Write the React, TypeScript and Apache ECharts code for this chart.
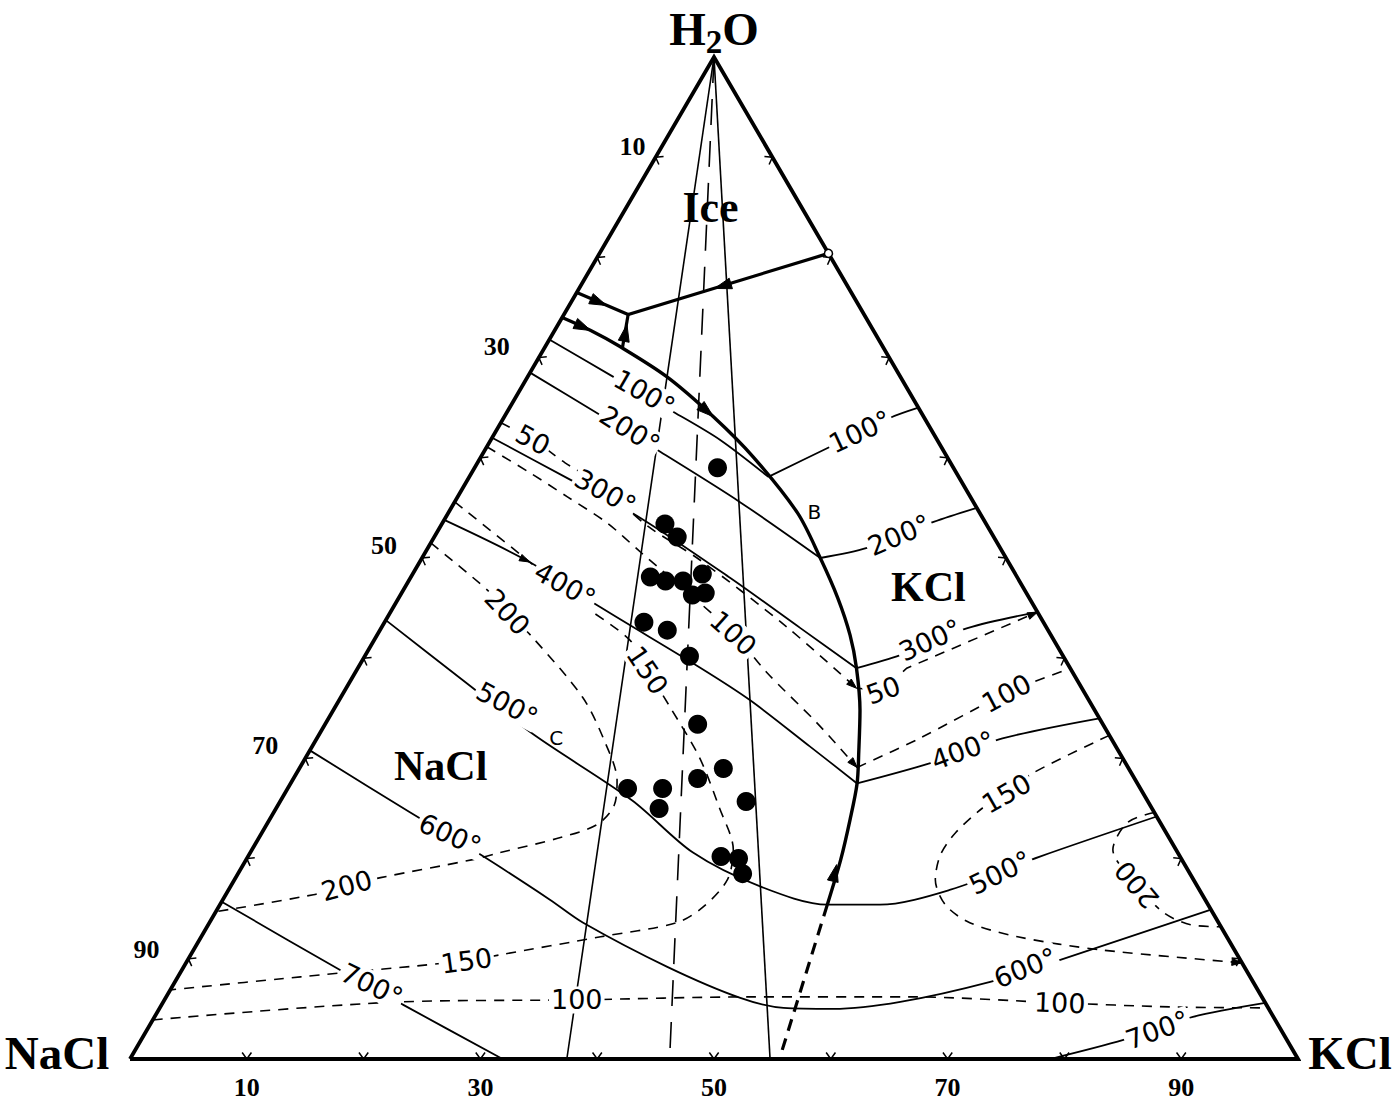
import React, { useEffect, useRef } from "react";
import * as echarts from "echarts";

// ---------------- DATA (ternary compositions: [KCl wt%, H2O wt%], NaCl = 100 - KCl - H2O) ----------------
const cornerNaCl = [0, 0];
const cornerKCl = [100, 0];
const cornerH2O = [0, 100];
const gridSteps = [10, 20, 30, 40, 50, 60, 70, 80, 90];
const edgeLabelValues = [10, 30, 50, 70, 90];

// liquidus field boundaries
const cotecticB = [[0, 74.0], [3.1, 72.7], [6.4, 71.1], [11.9, 68.1], [17.9, 64.1], [23.3, 60.1], [29.9, 54.5], [34.1, 50.0], [37.6, 46.0], [40.5, 42.3], [42.7, 39.0], [45.1, 34.8], [47.0, 30.8], [48.5, 27.5], [49.7, 23.9], [50.9, 19.9], [52.0, 15.4]];
const cotecticToBase = [[52.0, 15.4], [55.6, 0]];
const iceBoundary = [[0, 76.5], [5.5, 74.3], [19.6, 80.4]];
const iceLink = [[5.5, 74.3], [6.7, 70.9]];

// rays from the H2O apex (KCl wt% where they meet the base)
const apexRaysSolid = [37.4, 54.8];
const apexRaysDashed = [46.2];

// isotherms (solid), °C
const iso100Na = [[0, 71.8], [7.3, 68.1], [14.2, 64.6], [19.6, 61.8], [25.6, 58.1]];
const iso200Na = [[0, 68.5], [7.5, 64.6], [15.1, 60.6], [24.4, 55.6], [34.1, 50.0]];
const iso300Na = [[0, 62.0], [8.4, 58.0], [16.7, 54.0], [27.4, 48.0], [35.9, 43.0], [42.7, 39.0]];
const iso400Na = [[0, 53.8], [9.4, 49.6], [17.7, 45.1], [29.2, 39.1], [35.2, 35.8], [42.6, 31.2], [48.5, 27.5]];
const iso500 = [[0, 43.8], [9.6, 37.8], [18.5, 32.3], [30.1, 25.8], [37.9, 20.6], [45.4, 17.2], [52.0, 15.4], [56.5, 15.4], [61.8, 16.9], [67.8, 20.2], [75.8, 24.2]];
const iso600 = [[0, 30.8], [11.7, 24.6], [19.8, 20.4], [28.0, 15.9], [32.0, 13.6], [41.4, 9.2], [49.2, 6.1], [53.4, 5.1], [57.7, 5.0], [63.1, 5.7], [69.8, 7.7], [74.7, 9.9], [85.1, 14.9]];
const iso700Na = [[0, 15.7], [13.5, 8.9], [20.7, 5.4], [31.9, 0]];
const iso700K = [[78.8, 0], [84.1, 1.9], [88.9, 4.2], [94.4, 5.6]];
const iso100K = [[25.6, 58.1], [29.4, 61.1], [33.1, 64.0], [35.0, 65.0]];
const iso200K = [[34.1, 50.0], [37.6, 51.0], [42.0, 53.6], [45.0, 55.0]];
const iso300K = [[42.7, 39.0], [45.8, 40.3], [50.2, 43.0], [55.4, 44.6]];
const iso400K = [[48.5, 27.5], [53.7, 29.5], [58.7, 32.0], [66.0, 34.0]];

// isobars (dashed), MPa
const p50Na = [[0, 63.5], [3.6, 61.8], [7.5, 59.5], [11.6, 57.3], [17.7, 53.2], [23.9, 49.8], [34.7, 43.1], [43.7, 37.0]];
const p50K = [[43.7, 37.0], [46.1, 36.8], [47.0, 39.0], [55.4, 44.6]];
const p100Na = [[0, 61.1], [5.0, 58.5], [9.4, 56.1], [14.1, 53.5], [18.4, 50.6], [24.1, 46.8], [30.4, 42.5], [35.2, 38.6], [42.1, 33.5], [47.7, 29.1]];
const p100K = [[47.7, 29.1], [51.6, 32.0], [56.8, 36.5], [61.0, 39.0]];
const p150Na = [[0, 55.6], [8.8, 50.0], [15.8, 45.5], [21.9, 41.8], [24.9, 38.8], [28.7, 35.1], [33.7, 30.1], [37.9, 25.1], [41.2, 20.9], [42.2, 17.9], [41.5, 15.2], [40.0, 13.6], [34.2, 12.2], [26.5, 10.4], [23.9, 9.8], [10.5, 8.2], [0, 6.9]];
const p150K = [[67.7, 32.3], [63.0, 28.5], [61.8, 26.5], [60.5, 25.1], [59.4, 22.6], [59.2, 20.4], [60.0, 17.9], [62.1, 15.4], [65.1, 13.6], [69.9, 12.2], [77.6, 10.9], [90.4, 9.6]];
const p200Na = [[0, 51.5], [7.2, 46.8], [10.0, 44.6], [13.4, 42.1], [20.7, 36.1], [24.7, 31.8], [27.8, 27.8], [28.8, 25.3], [28.3, 23.4], [25.8, 22.1], [21.4, 20.6], [19.4, 19.9], [12.4, 18.1], [9.9, 17.3], [7.5, 16.4], [0, 14.7]];
const p200K = [[75.4, 24.6], [73.6, 23.6], [73.7, 20.9], [77.5, 17.4], [81.2, 14.6], [84.1, 13.4], [86.8, 13.2]];
const p100Low = [[0, 3.9], [20.3, 5.7], [35.3, 5.9], [50.0, 6.2], [63.7, 6.2], [76.8, 5.6], [86.4, 5.2], [94.9, 5.1]];

// fluid inclusion compositions
const samples = [
  [20.8, 59.0], [19.1, 53.4], [20.8, 52.1], [20.5, 48.1], [22.0, 47.7], [23.5, 47.7], [24.8, 48.4],
  [25.0, 46.3], [26.0, 46.5], [22.2, 43.6], [24.6, 42.8], [27.8, 40.2], [31.9, 33.4], [36.3, 29.0],
  [34.6, 28.0], [29.1, 27.0], [32.1, 27.0], [32.8, 25.0], [39.9, 25.7], [40.5, 20.2], [42.1, 20.0], [43.2, 18.5],
];

// crystallization-path arrows: [from, tip]
const pathArrows = [
  [[0, 76.5], [3.2, 75.2]], [[19.6, 80.4], [11.6, 76.9]], [[0, 74.0], [3.1, 72.7]],
  [[6.7, 70.9], [5.9, 73.3]], [[11.9, 68.1], [17.9, 64.1]], [[52.0, 15.4], [50.8, 19.4]],
];
const minorArrows = [
  [[0, 53.8], [9.4, 49.6]], [[42.1, 33.5], [47.7, 29.1]], [[34.7, 43.1], [43.7, 37.0]],
  [[77.6, 10.9], [90.4, 9.6]], [[47.0, 39.0], [55.4, 44.6]],
];
const eutonicPoint = [19.6, 80.4];

// ---------------- LAYOUT / ANNOTATIONS ----------------
const isoLabels = [
  { t: "100°", at: [10.8, 66.5], r: -30 }, { t: "200°", at: [11.4, 62.8], r: -32 },
  { t: "50", at: [3.6, 61.8], r: -28 }, { t: "300°", at: [12.4, 56.6], r: -29 },
  { t: "400°", at: [13.6, 47.3], r: -29 }, { t: "200", at: [10.0, 44.6], r: -47 },
  { t: "150", at: [24.9, 38.8], r: -56 }, { t: "100", at: [30.4, 42.5], r: -42 },
  { t: "500°", at: [14.6, 35.4], r: -28 }, { t: "600°", at: [16.2, 22.4], r: -24 },
  { t: "200", at: [9.9, 17.3], r: 15 }, { t: "700°", at: [17.0, 7.4], r: -26 },
  { t: "150", at: [23.9, 9.8], r: 8 }, { t: "100", at: [35.3, 5.9], r: 0 },
  { t: "100°", at: [31.2, 62.6], r: 25 }, { t: "200°", at: [39.7, 52.3], r: 23 },
  { t: "300°", at: [47.6, 41.8], r: 24 }, { t: "50", at: [46.1, 36.8], r: 20 },
  { t: "100", at: [56.8, 36.5], r: 28 }, { t: "400°", at: [55.9, 30.8], r: 20 },
  { t: "150", at: [61.8, 26.5], r: 30 }, { t: "500°", at: [65.2, 18.6], r: 26 },
  { t: "200", at: [77.5, 17.4], r: 130 }, { t: "600°", at: [72.1, 9.1], r: 22 },
  { t: "100", at: [76.8, 5.6], r: -2 }, { t: "700°", at: [86.5, 2.9], r: 20 },
];
const fieldLabels = [
  { t: "Ice", at: [7.2, 85.0], size: 44 },
  { t: "NaCl", at: [12.0, 29.2], size: 42 },
  { t: "KCl", at: [44.8, 47.1], size: 42 },
];
const pointLetters = [
  { t: "B", at: [31.3, 54.6] },
  { t: "C", at: [20.5, 32.0] },
];
const leftLabelOffsets = [[-23, -11], [-42, -11], [-38, -13], [-40, -13], [-42, -9]];

const SERIF = "Liberation Serif";
const SANS = "DejaVu Sans";
const toXY = (p: number[]) => [p[0] + p[1] / 2, p[1]];
const INK = "#000";

function lineSeries(pts: number[][], width: number, type: any, smooth: number | boolean, z: number) {
  return {
    type: "line",
    data: pts.map(toXY),
    symbol: "none",
    smooth,
    silent: true,
    clip: false,
    z,
    lineStyle: { color: INK, width, type, cap: "butt", join: "miter", opacity: 1 },
  };
}

function textSeries(data: any[], label: any, z = 5) {
  return {
    type: "scatter",
    silent: true,
    clip: false,
    z,
    symbolSize: 0,
    itemStyle: { opacity: 1, color: "transparent" },
    data,
    label: { show: true, position: "inside", formatter: "{b}", color: INK, opacity: 1, textBorderWidth: 0, ...label },
  };
}

function arrowSeries(list: number[][][], len: number, half: number) {
  return {
    type: "custom",
    silent: true,
    clip: false,
    z: 8,
    data: list.map(([a, b]) => [...toXY(a), ...toXY(b)]),
    renderItem: (_p: any, api: any) => {
      const a = api.coord([api.value(0), api.value(1)]);
      const b = api.coord([api.value(2), api.value(3)]);
      const dx = b[0] - a[0], dy = b[1] - a[1];
      const d = Math.hypot(dx, dy) || 1;
      const ux = dx / d, uy = dy / d;
      const bx = b[0] - ux * len, by = b[1] - uy * len;
      return {
        type: "polygon",
        shape: { points: [[b[0], b[1]], [bx - uy * half, by + ux * half], [bx + uy * half, by - ux * half]] },
        style: { fill: INK, stroke: INK, lineWidth: 1, opacity: 1 },
      };
    },
  };
}

function buildOption() {
  const solidIso = [iso100Na, iso200Na, iso300Na, iso400Na, iso500, iso600, iso700Na, iso700K, iso100K, iso200K, iso300K, iso400K];
  const dashedIso = [p50Na, p100Na, p100K, p150Na, p150K, p200Na, p200K, p100Low];

  const tickData: number[][] = [];
  gridSteps.forEach((s) => {
    tickData.push([...toXY([0, s]), 0]);
    tickData.push([...toXY([s, 100 - s]), 1]);
    tickData.push([...toXY([s, 0]), 2]);
  });

  const series: any[] = [
    lineSeries([cornerNaCl, cornerKCl, cornerH2O, cornerNaCl], 3.8, "solid", false, 4),
    ...apexRaysSolid.map((k) => lineSeries([cornerH2O, [k, 0]], 1.6, "solid", false, 2)),
    ...apexRaysDashed.map((k) => lineSeries([cornerH2O, [k, 0]], 1.6, [26, 16], false, 2)),
    ...solidIso.map((p) => lineSeries(p, 1.8, "solid", 0.3, 2)),
    ...dashedIso.map((p) => lineSeries(p, 1.6, [10, 8], 0.3, 2)),
    lineSeries(p50K, 1.6, [10, 8], false, 2),
    lineSeries(cotecticB, 3.4, "solid", 0.3, 3),
    lineSeries(cotecticToBase, 3.2, [12, 8], false, 3),
    lineSeries(iceBoundary, 3.2, "solid", false, 3),
    lineSeries(iceLink, 3.2, "solid", false, 3),
    {
      type: "custom",
      silent: true,
      clip: false,
      z: 4,
      data: tickData,
      renderItem: (_p: any, api: any) => {
        const P = api.coord([api.value(0), api.value(1)]);
        const A = api.coord(toXY(cornerNaCl));
        const B = api.coord(toXY(cornerKCl));
        const C = api.coord(toXY(cornerH2O));
        const G = [(A[0] + B[0] + C[0]) / 3, (A[1] + B[1] + C[1]) / 3];
        const e = api.value(2);
        const [S, E] = e === 0 ? [A, C] : e === 1 ? [B, C] : [A, B];
        let dx = E[0] - S[0], dy = E[1] - S[1];
        const d = Math.hypot(dx, dy);
        dx /= d; dy /= d;
        let nx = -dy, ny = dx;
        if (nx * (G[0] - S[0]) + ny * (G[1] - S[1]) < 0) { nx = -nx; ny = -ny; }
        const L = 8, ang = 0.62, c = Math.cos(ang), s = Math.sin(ang);
        const d1 = [nx * c - ny * s, nx * s + ny * c];
        const d2 = [nx * c + ny * s, -nx * s + ny * c];
        return {
          type: "polyline",
          shape: { points: [[P[0] + d1[0] * L, P[1] + d1[1] * L], [P[0], P[1]], [P[0] + d2[0] * L, P[1] + d2[1] * L]] },
          style: { stroke: INK, lineWidth: 1.5, fill: null },
        };
      },
    },
    textSeries(
      isoLabels.map((l) => ({ value: toXY(l.at), name: l.t, label: { rotate: l.r } })),
      { fontFamily: SANS, fontSize: 27, backgroundColor: "#fff", padding: [0, 2] }
    ),
    textSeries(
      fieldLabels.map((l) => ({ value: toXY(l.at), name: l.t, label: { fontSize: l.size } })),
      { fontFamily: SERIF, fontWeight: "bold" }
    ),
    textSeries(
      pointLetters.map((l) => ({ value: toXY(l.at), name: l.t })),
      { fontFamily: SANS, fontSize: 20 }
    ),
    textSeries(
      [
        { value: toXY(cornerNaCl), name: "NaCl", label: { offset: [-73, -6] } },
        { value: toXY(cornerKCl), name: "KCl", label: { offset: [52, -6] } },
      ],
      { fontFamily: SERIF, fontWeight: "bold", fontSize: 47 }
    ),
    textSeries([{ value: toXY(cornerH2O), name: "H2O" }], {
      offset: [0, -28],
      formatter: "{a|H}{b|2}{a|O}",
      rich: {
        a: { fontFamily: SERIF, fontWeight: "bold", fontSize: 47, color: INK, lineHeight: 50 },
        b: { fontFamily: SERIF, fontWeight: "bold", fontSize: 33, color: INK, padding: [26, 0, 0, 0] },
      },
    }),
    textSeries(
      [
        ...edgeLabelValues.map((v, i) => ({ value: toXY([0, 100 - v]), name: String(v), label: { offset: leftLabelOffsets[i] } })),
        ...edgeLabelValues.map((v) => ({ value: toXY([v, 0]), name: String(v), label: { offset: [0, 28] } })),
      ],
      { fontFamily: SERIF, fontWeight: "bold", fontSize: 26 }
    ),
    {
      type: "scatter",
      silent: true,
      clip: false,
      z: 7,
      symbol: "circle",
      symbolSize: 19,
      itemStyle: { color: INK, opacity: 1 },
      data: samples.map(toXY),
    },
    {
      type: "scatter",
      silent: true,
      clip: false,
      z: 7,
      symbol: "circle",
      symbolSize: 8,
      itemStyle: { color: "#fff", borderColor: INK, borderWidth: 1.5, opacity: 1 },
      data: [toXY(eutonicPoint)],
    },
    arrowSeries(pathArrows, 17, 5.5),
    arrowSeries(minorArrows, 10, 3.5),
  ];

  return {
    animation: false,
    backgroundColor: "#fff",
    grid: { left: 130, right: 102, top: 57, bottom: 49 },
    xAxis: { type: "value", min: 0, max: 100, show: false },
    yAxis: { type: "value", min: 0, max: 100, show: false },
    series,
  };
}

export default function App() {
  const ref = useRef<HTMLDivElement>(null);
  useEffect(() => {
    if (!ref.current) return;
    const chart = echarts.init(ref.current, undefined, { renderer: "svg" });
    chart.setOption(buildOption() as any);
    return () => chart.dispose();
  }, []);
  return (
    <div
      ref={ref}
      style={{ position: "fixed", left: 0, top: 0, width: 1400, height: 1108, background: "#fff" }}
    />
  );
}
